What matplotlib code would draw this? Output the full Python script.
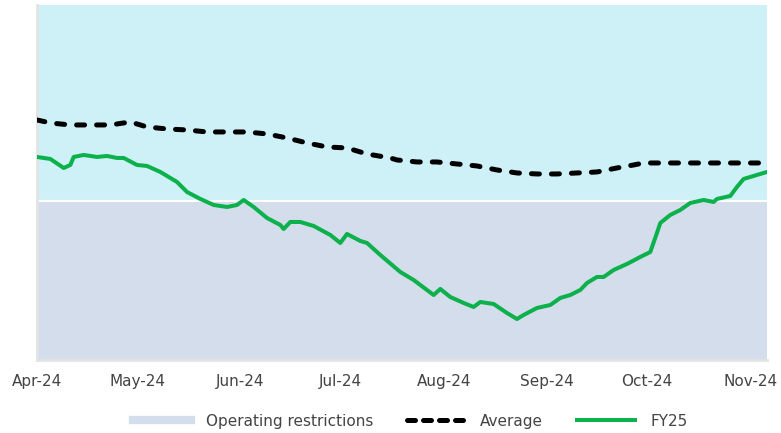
import numpy as np
import pandas as pd
import matplotlib.pyplot as plt
import matplotlib.dates as mdates
from matplotlib.lines import Line2D

# values (arbitrary storage units, 0 = chart floor)
fy25_dates = ['2024-04-01', '2024-04-05', '2024-04-09', '2024-04-11', '2024-04-12', '2024-04-15',
              '2024-04-19', '2024-04-22', '2024-04-25', '2024-04-27', '2024-05-01', '2024-05-04',
              '2024-05-08', '2024-05-13', '2024-05-16', '2024-05-20', '2024-05-24', '2024-05-28',
              '2024-05-31', '2024-06-02', '2024-06-05', '2024-06-09', '2024-06-13', '2024-06-14',
              '2024-06-16', '2024-06-19', '2024-06-23', '2024-06-28', '2024-07-01', '2024-07-03',
              '2024-07-07', '2024-07-09', '2024-07-13', '2024-07-19', '2024-07-23', '2024-07-27',
              '2024-07-29', '2024-07-31', '2024-08-03', '2024-08-07', '2024-08-10', '2024-08-12',
              '2024-08-16', '2024-08-20', '2024-08-23', '2024-08-25', '2024-08-29', '2024-09-02',
              '2024-09-05', '2024-09-08', '2024-09-11', '2024-09-13', '2024-09-16', '2024-09-18',
              '2024-09-21', '2024-09-25', '2024-09-29', '2024-10-02', '2024-10-04', '2024-10-05',
              '2024-10-08', '2024-10-11', '2024-10-14', '2024-10-18', '2024-10-21', '2024-10-22',
              '2024-10-26', '2024-10-28', '2024-10-30', '2024-11-03', '2024-11-06']
fy25_vals = [203, 201, 192, 195, 203, 205,
             203, 204, 202, 202, 195, 194,
             188, 178, 168, 161, 155, 153,
             155, 160, 153, 142, 135, 131,
             138, 138, 134, 125, 117, 126,
             119, 117, 105, 88, 80, 70,
             65, 71, 63, 57, 53, 58,
             56, 47, 41, 45, 52, 55,
             62, 65, 70, 77, 83, 83,
             90, 96, 103, 108, 127, 137,
             145, 150, 157, 160, 158, 161,
             164, 173, 181, 185, 188]

avg_dates = ['2024-04-01', '2024-04-05', '2024-04-11', '2024-04-17', '2024-04-23', '2024-04-29',
             '2024-05-04', '2024-05-10', '2024-05-16', '2024-05-22', '2024-05-28', '2024-06-03',
             '2024-06-09', '2024-06-15', '2024-06-21', '2024-06-27', '2024-07-03', '2024-07-09',
             '2024-07-16', '2024-07-18', '2024-07-24', '2024-07-30', '2024-08-05', '2024-08-11',
             '2024-08-17', '2024-08-23', '2024-08-29', '2024-09-04', '2024-09-10', '2024-09-16',
             '2024-09-22', '2024-09-27', '2024-09-30', '2024-10-17', '2024-11-06']
avg_vals = [240, 237, 235, 235, 235, 238,
            233, 231, 230, 228, 228, 228,
            226, 222, 217, 213, 212, 206,
            202, 200, 198, 198, 196, 194,
            190, 187, 186, 186, 187, 188,
            192, 195, 197, 197, 197]

restriction_level = 159
y_top = 355
month_ticks = ['2024-04-01', '2024-05-01', '2024-06-01', '2024-07-01',
               '2024-08-01', '2024-09-01', '2024-10-01', '2024-11-01']

fy25_x = pd.to_datetime(fy25_dates)
avg_x = pd.to_datetime(avg_dates)

green = '#0cb14b'
upper_col = '#cdf1f7'
lower_col = '#d4ddec'
text_col = '#444444'

plt.rcParams['font.family'] = ['DejaVu Sans']

fig = plt.figure(figsize=(7.81, 4.33), dpi=100)
ax = fig.add_axes([0.0474, 0.1686, 0.9346, 0.82])

ax.axhspan(restriction_level, y_top, color=upper_col, lw=0, zorder=0)
ax.axhspan(0, restriction_level, color=lower_col, lw=0, zorder=0)
ax.axhline(restriction_level, color='white', lw=1.5, zorder=1)

ax.plot(avg_x, avg_vals, color='black', lw=3.6, linestyle=(0, (1.6, 2.4)),
        dash_capstyle='round', zorder=3)
ax.plot(fy25_x, fy25_vals, color=green, lw=2.9, solid_capstyle='round',
        solid_joinstyle='round', zorder=4)

ax.set_xlim(fy25_x[0], fy25_x[-1])
ax.set_ylim(0, y_top)
ax.set_yticks([])
ax.set_xticks(pd.to_datetime(month_ticks))
ax.xaxis.set_major_formatter(mdates.DateFormatter('%b-%y'))
ax.tick_params(axis='x', length=0, pad=10, labelsize=11, labelcolor=text_col)

for s in ['top', 'right']:
    ax.spines[s].set_visible(False)
for s in ['left', 'bottom']:
    ax.spines[s].set_color('#e3e3e3')
    ax.spines[s].set_linewidth(2)

handles = [Line2D([], [], color=lower_col, lw=6),
           Line2D([], [], color='black', lw=3.6, linestyle=(0, (1.6, 1.6)), dash_capstyle='round'),
           Line2D([], [], color=green, lw=2.9)]
labels = ['Operating restrictions', 'Average', 'FY25']
fig.legend(handles, labels, loc='lower center', bbox_to_anchor=(0.525, -0.022), ncol=3,
           frameon=False, fontsize=11, labelcolor=text_col, handlelength=3.8,
           columnspacing=2.2, handletextpad=1.0)

fig.savefig('out.png', dpi=100)
